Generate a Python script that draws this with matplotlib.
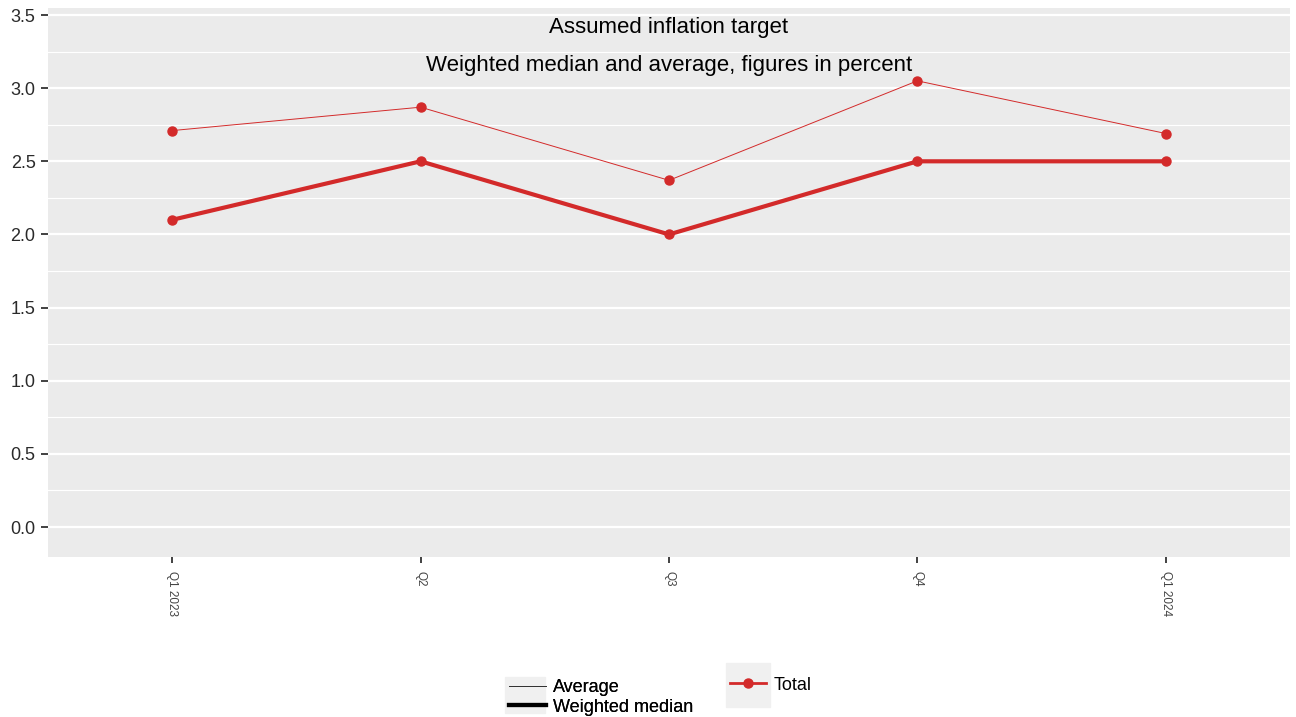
import numpy as np
import matplotlib
matplotlib.use("Agg")
import matplotlib.pyplot as plt
from matplotlib.lines import Line2D
from matplotlib.patches import Rectangle
from matplotlib.ticker import MultipleLocator, FormatStrFormatter

# data
quarters = ["Q1 2023", "Q2", "Q3", "Q4", "Q1 2024"]
average = [2.71, 2.87, 2.37, 3.05, 2.69]
weighted_median = [2.10, 2.50, 2.00, 2.50, 2.50]

red = "#d32a2a"
panel_bg = "#ebebeb"
key_bg = "#f0f0f0"

plt.rcParams["font.family"] = ["Liberation Sans", "DejaVu Sans"]

W, H = 1296, 717
fig = plt.figure(figsize=(W / 100, H / 100), dpi=100)
ax = fig.add_axes([48/W, 1 - 557/H, (1290-48)/W, (557-8)/H])
ax.set_facecolor(panel_bg)

x = np.arange(len(quarters))
ax.plot(x, average, color=red, lw=0.7, marker="o", ms=6.5, zorder=3)
ax.plot(x, weighted_median, color=red, lw=3.0, marker="o", ms=6.5, zorder=3)

ax.set_xlim(-0.5, len(quarters) - 0.5)
ax.set_ylim(-0.205, 3.548)
ax.yaxis.set_major_locator(MultipleLocator(0.5))
ax.yaxis.set_minor_locator(MultipleLocator(0.25))
ax.yaxis.set_major_formatter(FormatStrFormatter("%.1f"))
ax.set_xticks(x)
ax.set_xticklabels(quarters, rotation=-90, fontsize=8.5, color="#444444")
ax.tick_params(axis="y", which="major", labelsize=13, length=5, width=1.3,
               color="#333333", labelcolor="#2a2a2a", pad=4)
ax.tick_params(axis="y", which="minor", length=0)
ax.tick_params(axis="x", length=4, width=1.3, color="#333333", pad=6)

ax.grid(which="major", axis="y", color="white", lw=1.6, zorder=0)
ax.grid(which="minor", axis="y", color="white", lw=0.8, zorder=0)
ax.set_axisbelow(True)
for s in ax.spines.values():
    s.set_visible(False)

ax.text(0.5, 1 - (28 - 8) / 549, "Assumed inflation target",
        transform=ax.transAxes, ha="center", va="center", fontsize=16)
ax.text(0.5, 1 - (66 - 8) / 549,
        "Weighted median and average, figures in percent",
        transform=ax.transAxes, ha="center", va="center", fontsize=16)

# grey key backgrounds, as in the ggplot legend
fig.add_artist(Rectangle((505/W, 1 - 713/H), 40/W, 36/H,
                         transform=fig.transFigure, color=key_bg, zorder=0))
fig.add_artist(Rectangle((726/W, 1 - 707/H), 44/W, 44/H,
                         transform=fig.transFigure, color=key_bg, zorder=0))

h_style = [Line2D([], [], color="#333333", lw=0.7),
           Line2D([], [], color="black", lw=3.0)]
leg1 = fig.legend(h_style, ["Average", "Weighted median"],
                  loc="center left", bbox_to_anchor=(509/W, 1 - 697.5/H),
                  frameon=False, fontsize=13, handlelength=2.05,
                  handletextpad=0.4, labelspacing=0.12, borderpad=0,
                  borderaxespad=0)
h_total = [Line2D([], [], color=red, lw=2.0, marker="o", ms=6.5)]
leg2 = fig.legend(h_total, ["Total"], loc="center left",
                  bbox_to_anchor=(730/W, 1 - 685/H),
                  frameon=False, fontsize=13, handlelength=2.0,
                  handletextpad=0.4, borderpad=0, borderaxespad=0)
fig.add_artist(leg1)

fig.savefig("out.png", dpi=100)
